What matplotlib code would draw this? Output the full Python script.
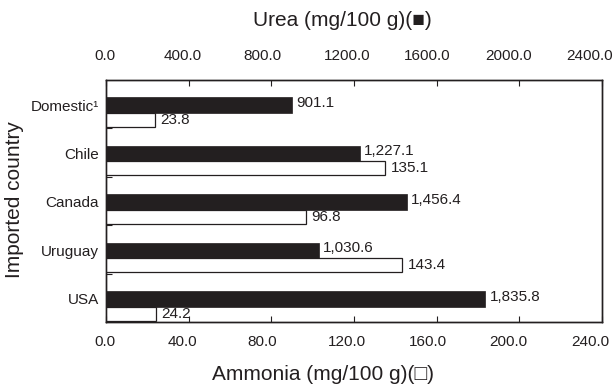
import matplotlib
matplotlib.use("Agg")
import matplotlib.pyplot as plt
import matplotlib.transforms as mtransforms
import numpy as np

plt.rcParams['font.family'] = ['Liberation Sans', 'DejaVu Sans']

countries = ["Domestic\u00b9", "Chile", "Canada", "Uruguay", "USA"]
urea = [901.1, 1227.1, 1456.4, 1030.6, 1835.8]
ammonia = [23.8, 135.1, 96.8, 143.4, 24.2]
urea_labels = ["901.1", "1,227.1", "1,456.4", "1,030.6", "1,835.8"]
ammonia_labels = ["23.8", "135.1", "96.8", "143.4", "24.2"]
ammonia_ticks = [0, 40, 80, 120, 160, 200, 240]
urea_ticks = [0, 400, 800, 1200, 1600, 2000, 2400]

ink = "#231f20"

fig = plt.figure(figsize=(6.14, 3.88), dpi=100)
ax = fig.add_axes([106 / 614, 1 - 322 / 388, 496 / 614, 242 / 388])
ax2 = ax.twiny()
# keep the white bars and their numbers above the black bars
ax.set_zorder(ax2.get_zorder() + 1)
ax.patch.set_visible(False)

y = np.arange(len(countries))
black_c = y + 0.52
white_c = y + 0.825

# ammonia (white, bottom axis)
ax.barh(white_c, ammonia, height=0.29, color="white", edgecolor=ink, linewidth=0.9)
# urea (black, top axis)
ax2.barh(black_c, urea, height=0.32, color=ink, edgecolor=ink, linewidth=0.5)

for yc, v, lab in zip(black_c, urea, urea_labels):
    ax2.annotate(lab, (v, yc), xytext=(3, 1.5), textcoords="offset points",
                 va="center", ha="left", fontsize=11, color=ink)
for yc, v, lab in zip(white_c, ammonia, ammonia_labels):
    ax.annotate(lab, (v, yc), xytext=(4, 0), textcoords="offset points",
                va="center", ha="left", fontsize=11, color=ink)

ax.set_xlim(0, 240)
ax2.set_xlim(0, 2400)
ax.set_ylim(len(countries), 0)

ax.set_xticks(ammonia_ticks)
ax.set_xticklabels(["%.1f" % t for t in ammonia_ticks])
ax2.set_xticks(urea_ticks)
ax2.set_xticklabels(["%.1f" % t for t in urea_ticks])

ax.tick_params(axis="x", direction="in", length=4, pad=9, labelsize=11, color=ink, labelcolor=ink)
ax2.tick_params(axis="x", direction="in", length=4, pad=12, labelsize=11, color=ink, labelcolor=ink)

# the labels in the source sit a little left of their ticks
shifts = [-1, -6, -9, -7, -9, -11, -12]
for a in (ax, ax2):
    for lab, dx in zip(a.get_xticklabels(), shifts):
        lab.set_transform(lab.get_transform() +
                          mtransforms.ScaledTranslation(dx / 100, 0, fig.dpi_scale_trans))

# group boundary ticks on the left, category names at the black bars
ax.set_yticks(np.arange(1, len(countries)))
ax.set_yticklabels([])
ax.tick_params(axis="y", which="major", direction="in", length=4, color=ink)
ax.set_yticks(black_c, minor=True)
ax.set_yticklabels(countries, minor=True)
ax.tick_params(axis="y", which="minor", length=0, pad=5, labelsize=11, labelcolor=ink)

for a in (ax, ax2):
    for s in a.spines.values():
        s.set_color(ink)
        s.set_linewidth(1.0)

fig.text(342 / 614, 1 - 20 / 388, "Urea (mg/100 g)(\u25a0)", ha="center", va="center",
         fontsize=15, color=ink)
fig.text(323 / 614, 1 - 375 / 388, "Ammonia (mg/100 g)(\u25a1)", ha="center", va="center",
         fontsize=15, color=ink)
fig.text(15 / 614, 1 - 200 / 388, "Imported country", rotation=90, ha="center", va="center",
         fontsize=15, color=ink)

fig.savefig("out.png", dpi=100)
